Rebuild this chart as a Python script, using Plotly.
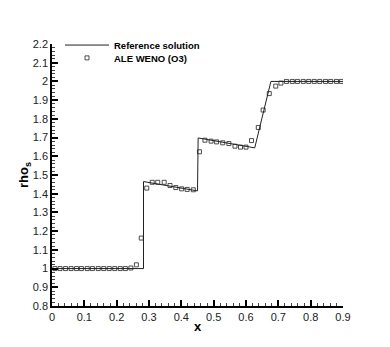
import plotly.graph_objects as go

# reference solution (piecewise linear)
ref_x = [0.0, 0.283, 0.283, 0.45, 0.452, 0.627, 0.677, 0.9]
ref_rho = [1.0, 1.0, 1.465, 1.415, 1.698, 1.645, 2.0, 2.0]

# ALE WENO (O3) cell values
weno_x = [0.009, 0.025, 0.042, 0.059, 0.076, 0.091, 0.109, 0.125, 0.143, 0.160,
          0.177, 0.194, 0.211, 0.227, 0.244, 0.261, 0.276, 0.293,
          0.310, 0.327, 0.347, 0.365, 0.383, 0.401, 0.418, 0.437,
          0.456, 0.473, 0.492, 0.509, 0.528, 0.547, 0.566, 0.583, 0.600,
          0.617, 0.638, 0.653, 0.672, 0.692, 0.708,
          0.725, 0.743, 0.759, 0.777, 0.794, 0.811, 0.828, 0.846, 0.862, 0.880, 0.895]
weno_rho = [1.0, 1.0, 1.0, 1.0, 1.0, 1.0, 1.0, 1.0, 1.0, 1.0,
            1.0, 1.0, 1.0, 1.0, 1.003, 1.02, 1.163, 1.43,
            1.461, 1.461, 1.461, 1.444, 1.433, 1.426, 1.423, 1.421,
            1.624, 1.686, 1.681, 1.677, 1.672, 1.668, 1.654, 1.649, 1.649,
            1.684, 1.754, 1.847, 1.935, 1.975, 1.991,
            2.0, 2.0, 2.0, 2.0, 2.0, 2.0, 2.0, 2.0, 2.0, 2.0, 2.0]

x_ticks = [0, 0.1, 0.2, 0.3, 0.4, 0.5, 0.6, 0.7, 0.8, 0.9]
x_labels = ["0", "0.1", "0.2", "0.3", "0.4", "0.5", "0.6", "0.7", "0.8", "0.9"]
y_ticks = [0.8, 0.9, 1.0, 1.1, 1.2, 1.3, 1.4, 1.5, 1.6, 1.7, 1.8, 1.9, 2.0, 2.1, 2.2]
y_labels = ["0.8", "0.9", "1", "1.1", "1.2", "1.3", "1.4", "1.5", "1.6", "1.7",
            "1.8", "1.9", "2", "2.1", "2.2"]

fig = go.Figure()
fig.add_trace(go.Scatter(x=ref_x, y=ref_rho, mode="lines",
                         name="<b>Reference solution</b>", legend="legend",
                         line=dict(color="#222", width=1)))
fig.add_trace(go.Scatter(x=weno_x, y=weno_rho, mode="markers",
                         name="<b>ALE WENO (O3)</b>", legend="legend2",
                         marker=dict(symbol="square-open", size=4, color="#222",
                                     line=dict(width=0.8))))

axis_common = dict(showgrid=False, zeroline=False, showline=True, linecolor="black",
                   linewidth=1.5, ticks="inside", ticklen=6, tickwidth=1.5,
                   tickcolor="black", tickfont=dict(size=11, color="#222"),
                   mirror=False, automargin=False)

leg_common = dict(xanchor="left", yanchor="middle", bgcolor="rgba(0,0,0,0)",
                  font=dict(size=9.5), itemwidth=44)

# the page body adds an 8px offset, margins are set to compensate
fig.update_layout(
    width=390, height=347,
    margin=dict(l=44, r=55, t=36, b=49, autoexpand=False),
    paper_bgcolor="white", plot_bgcolor="white",
    font=dict(family="Liberation Sans, Arial, sans-serif", color="black"),
    xaxis=dict(range=[0, 0.9], tickvals=x_ticks, ticktext=x_labels,
               title=dict(text="<b>x</b>", font=dict(size=13), standoff=0),
               minor=dict(dtick=0.02, ticks="inside", ticklen=3, tickcolor="#444",
                          tickwidth=1),
               **axis_common),
    yaxis=dict(range=[0.8, 2.2], tickvals=y_ticks, ticktext=y_labels,
               title=dict(text="<b>rho<sub>s</sub></b>", font=dict(size=13), standoff=0),
               minor=dict(dtick=0.02, ticks="inside", ticklen=3, tickcolor="#444",
                          tickwidth=1),
               **axis_common),
    legend=dict(x=0.0275, y=0.996, **leg_common),
    legend2=dict(x=0.0275, y=0.947, **leg_common),
    showlegend=True,
)

fig.write_html("out.html")
